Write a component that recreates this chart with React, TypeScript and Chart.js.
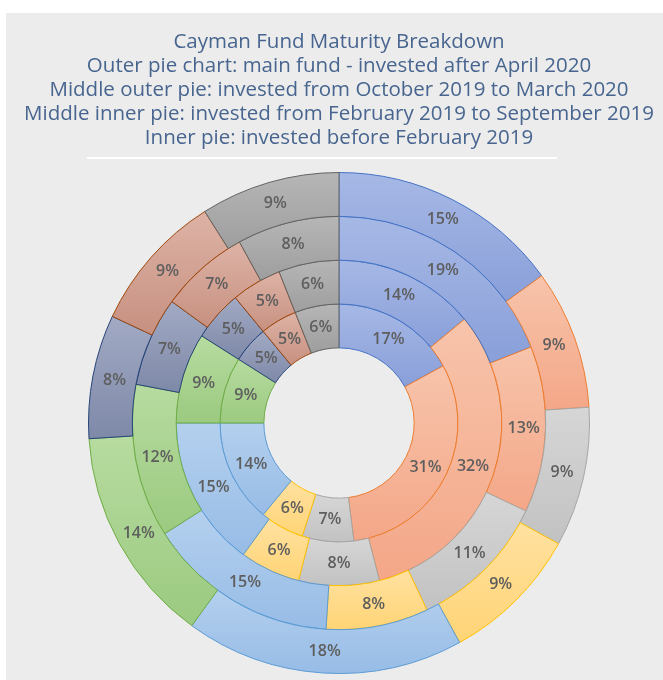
import React, { useEffect, useRef } from "react";
import { Chart, registerables } from "chart.js";

Chart.register(...registerables);

const categories = [
  "Segment 1",
  "Segment 2",
  "Segment 3",
  "Segment 4",
  "Segment 5",
  "Segment 6",
  "Segment 7",
  "Segment 8",
  "Segment 9",
];

// Outer pie: main fund - invested after April 2020
const outerValues = [15, 9, 9, 9, 18, 14, 8, 9, 9];
// Middle outer pie: invested from October 2019 to March 2020
const middleOuterValues = [19, 13, 11, 8, 15, 12, 7, 7, 8];
// Middle inner pie: invested from February 2019 to September 2019
const middleInnerValues = [14, 32, 8, 6, 15, 9, 5, 5, 6];
// Inner pie: invested before February 2019
const innerValues = [17, 31, 7, 6, 14, 9, 5, 5, 6];

const ringNames = [
  "Outer pie chart: main fund - invested after April 2020",
  "Middle outer pie: invested from October 2019 to March 2020",
  "Middle inner pie: invested from February 2019 to September 2019",
  "Inner pie: invested before February 2019",
];

const titleLines = [
  "Cayman Fund Maturity Breakdown",
  "Outer pie chart: main fund - invested after April 2020",
  "Middle outer pie: invested from October 2019 to March 2020",
  "Middle inner pie: invested from February 2019 to September 2019",
  "Inner pie: invested before February 2019",
];

const fillTop = [
  "#a6b8e5",
  "#f7c4ab",
  "#d6d6d6",
  "#ffe1a0",
  "#b4d0ee",
  "#b7dba0",
  "#a2aac4",
  "#ddb3a6",
  "#b6b6b6",
];
const fillBottom = [
  "#899fd9",
  "#f4a788",
  "#c2c2c2",
  "#ffd476",
  "#97bce6",
  "#9bca80",
  "#7e89a8",
  "#c79080",
  "#9e9e9e",
];
const borderColors = [
  "#4472C4",
  "#ED7D31",
  "#A5A5A5",
  "#FFC000",
  "#5B9BD5",
  "#70AD47",
  "#264478",
  "#9E480E",
  "#636363",
];

function sliceFill(ctx: any) {
  const i = ctx.dataIndex;
  const chart = ctx.chart;
  const meta = chart.getDatasetMeta(ctx.datasetIndex);
  const el: any = meta && meta.data ? meta.data[i] : null;
  if (!el || !el.outerRadius) return fillTop[i];
  const { x, y, startAngle, endAngle, innerRadius, outerRadius } = el;
  const ys = [
    y + outerRadius * Math.sin(startAngle),
    y + outerRadius * Math.sin(endAngle),
    y + innerRadius * Math.sin(startAngle),
    y + innerRadius * Math.sin(endAngle),
  ];
  const inRange = (a: number) => a >= startAngle && a <= endAngle;
  if (inRange(-Math.PI / 2) || inRange((3 * Math.PI) / 2)) ys.push(y - outerRadius);
  if (inRange(Math.PI / 2)) ys.push(y + outerRadius);
  const minY = Math.min(...ys);
  const maxY = Math.max(...ys);
  const g = chart.ctx.createLinearGradient(x, minY, x, maxY + 0.001);
  g.addColorStop(0, fillTop[i]);
  g.addColorStop(1, fillBottom[i]);
  return g;
}

const labelPlugin = {
  id: "ringLabels",
  afterDatasetsDraw(chart: any) {
    const c = chart.ctx;
    c.save();
    c.font = "600 16px 'Open Sans', sans-serif";
    c.fillStyle = "#5e5e5e";
    c.textAlign = "center";
    c.textBaseline = "middle";
    chart.data.datasets.forEach((ds: any, di: number) => {
      const meta = chart.getDatasetMeta(di);
      meta.data.forEach((arc: any, i: number) => {
        const p = arc.tooltipPosition();
        c.fillText(ds.data[i] + "%", p.x, p.y);
      });
    });
    c.restore();
  },
};

const rulePlugin = {
  id: "titleRule",
  afterDraw(chart: any) {
    const c = chart.ctx;
    const y = chart.chartArea.top - 14;
    c.save();
    c.strokeStyle = "#ffffff";
    c.lineWidth = 2;
    c.beginPath();
    c.moveTo(81, y);
    c.lineTo(551, y);
    c.stroke();
    c.restore();
  },
};

export default function App() {
  const ref = useRef<HTMLCanvasElement | null>(null);

  useEffect(() => {
    if (!ref.current) return;
    const rings = [outerValues, middleOuterValues, middleInnerValues, innerValues];
    const chart = new Chart(ref.current, {
      type: "doughnut",
      data: {
        labels: categories,
        datasets: rings.map((vals, k) => ({
          label: ringNames[k],
          data: vals,
          backgroundColor: sliceFill as any,
          borderColor: borderColors,
          borderWidth: 1,
        })),
      },
      options: {
        responsive: false,
        animation: false,
        cutout: "30%",
        layout: { padding: { left: 9, right: 0, top: 0, bottom: 6 } },
        plugins: {
          legend: { display: false },
          tooltip: { enabled: false },
          title: {
            display: true,
            text: titleLines,
            color: "#47658f",
            font: { family: "'Open Sans', sans-serif", size: 20.5, weight: "normal", lineHeight: "24px" },
            padding: { top: 17, bottom: 22 },
          },
        },
      },
      plugins: [labelPlugin, rulePlugin],
    });
    chart.update();
    return () => chart.destroy();
  }, []);

  return (
    <div
      style={{
        position: "absolute",
        left: 0,
        top: 0,
        width: 663,
        height: 680,
        background: "#ffffff",
        overflow: "hidden",
      }}
    >
      <div
        style={{
          position: "absolute",
          left: 6,
          top: 13,
          width: 657,
          height: 667,
          background: "#ececec",
        }}
      >
        <canvas ref={ref} width={657} height={667} style={{ display: "block" }} />
      </div>
    </div>
  );
}
